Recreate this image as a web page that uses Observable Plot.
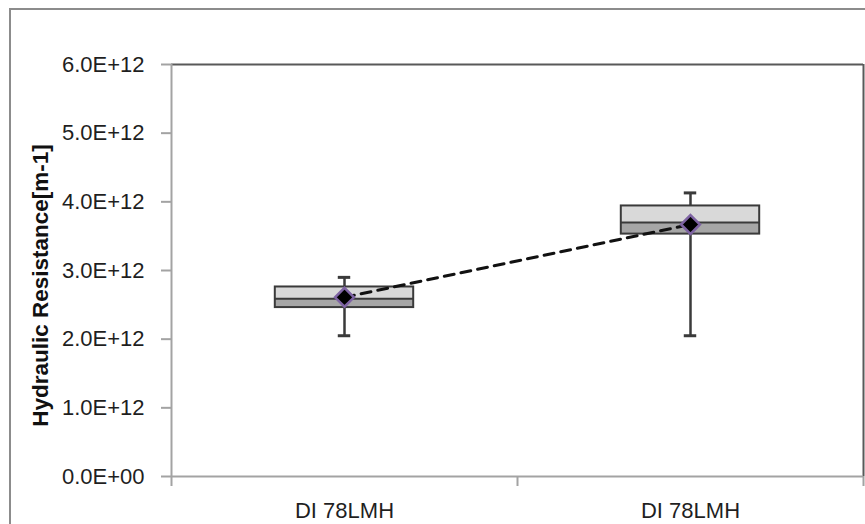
<!DOCTYPE html>
<html>
<head>
<meta charset="utf-8">
<script src="https://cdn.jsdelivr.net/npm/d3@7"></script>
<script src="https://cdn.jsdelivr.net/npm/@observablehq/plot@0.6"></script>
<style>
  html, body { margin: 0; padding: 0; background: #fff; overflow: hidden; }
  #wrap { position: relative; width: 865px; height: 524px; }
  #border {
    position: absolute; left: 9px; top: 8px; width: 900px; height: 560px;
    border: 2px solid #8c8c8c; box-sizing: border-box;
  }
  #chart { position: absolute; left: 0; top: 0; }
</style>
</head>
<body>
<div id="wrap"><div id="border"></div><div id="chart"></div></div>
<script>
// Box-plot summary of hydraulic resistance for two DI runs at 78 LMH
const categories = ["DI 78LMH", "DI 78LMH"];
const minVals    = [2.05e12, 2.05e12];
const q1Vals     = [2.46e12, 3.53e12];
const medianVals = [2.59e12, 3.70e12];
const q3Vals     = [2.76e12, 3.94e12];
const maxVals    = [2.90e12, 4.13e12];
const meanVals   = [2.61e12, 3.67e12];
const yTicks     = [0, 1e12, 2e12, 3e12, 4e12, 5e12, 6e12];
const yLabel     = "Hydraulic Resistance[m-1]";

// each category sits in the middle of its unit slot on a linear x scale
const rows = categories.map((c, i) => ({
  pos: i + 0.5, label: c,
  min: minVals[i], q1: q1Vals[i], median: medianVals[i],
  q3: q3Vals[i], max: maxVals[i], mean: meanVals[i]
}));

const half = 0.2;      // box half-width in slot units
const cap = 0.018;     // whisker cap half-width

// Excel-style 0.0E+00 number format
const sci = d => {
  const [m, e] = d.toExponential(1).toUpperCase().split("E");
  return `${m}E${e[0]}${e.slice(1).padStart(2, "0")}`;
};

const axisGray = "#a3a3a3";
const frameDark = "#595959";
const boxStroke = "#3a3a3a";

const chart = Plot.plot({
  width: 865,
  height: 524,
  marginLeft: 171,
  marginRight: 2,
  marginTop: 64,
  marginBottom: 48,
  style: {
    background: "transparent",
    fontFamily: "'Liberation Sans', Arial, sans-serif",
    fontSize: "22px",
    color: "#1f1f1f"
  },
  x: { domain: [0, 2] },
  y: { domain: [0, 6e12] },
  marks: [
    // frame: dark top/right, grey axes on left/bottom
    Plot.ruleY([6e12], { stroke: frameDark, strokeWidth: 2 }),
    Plot.ruleX([2], { stroke: frameDark, strokeWidth: 2 }),
    Plot.ruleX([0], { stroke: axisGray, strokeWidth: 2 }),
    Plot.ruleY([0], { stroke: axisGray, strokeWidth: 2 }),
    Plot.axisY({
      ticks: yTicks, tickSize: 10, tickPadding: 17, tickFormat: sci,
      stroke: axisGray, strokeWidth: 2, label: null
    }),
    Plot.axisX({
      ticks: [0, 1, 2], tickSize: 10, tickFormat: () => "",
      stroke: axisGray, strokeWidth: 2, label: null
    }),
    Plot.axisX(rows.map(r => r.pos), {
      tickSize: 0, tickPadding: 26, label: null,
      tickFormat: d => categories[Math.floor(d)]
    }),
    // y axis title
    Plot.text([yLabel], {
      frameAnchor: "left", textAnchor: "middle", rotate: -90, dx: -131, dy: 15,
      fontWeight: "bold", fontSize: 22.5, fill: "#111"
    }),
    // whiskers and caps
    Plot.ruleX(rows, { x: "pos", y1: "min", y2: "max", stroke: boxStroke, strokeWidth: 2.5 }),
    Plot.ruleY(rows, { y: "min", x1: d => d.pos - cap, x2: d => d.pos + cap, stroke: boxStroke, strokeWidth: 3 }),
    Plot.ruleY(rows, { y: "max", x1: d => d.pos - cap, x2: d => d.pos + cap, stroke: boxStroke, strokeWidth: 3 }),
    // lower half (q1..median) and upper half (median..q3)
    Plot.rect(rows, { x1: d => d.pos - half, x2: d => d.pos + half, y1: "q1", y2: "median", fill: "#a6a6a6" }),
    Plot.rect(rows, { x1: d => d.pos - half, x2: d => d.pos + half, y1: "median", y2: "q3", fill: "#d9d9d9" }),
    Plot.rect(rows, { x1: d => d.pos - half, x2: d => d.pos + half, y1: "q1", y2: "q3", fill: "none", stroke: boxStroke, strokeWidth: 2 }),
    Plot.ruleY(rows, { y: "median", x1: d => d.pos - half, x2: d => d.pos + half, stroke: boxStroke, strokeWidth: 2 }),
    // mean trend
    Plot.line(rows, { x: "pos", y: "mean", stroke: "#111", strokeWidth: 3, strokeDasharray: "10,7" }),
    Plot.dot(rows, { x: "pos", y: "mean", symbol: "diamond2", r: 8.5, fill: "#000", stroke: "#7e63a3", strokeWidth: 2.5 })
  ]
});

document.getElementById("chart").appendChild(chart);
</script>
</body>
</html>
